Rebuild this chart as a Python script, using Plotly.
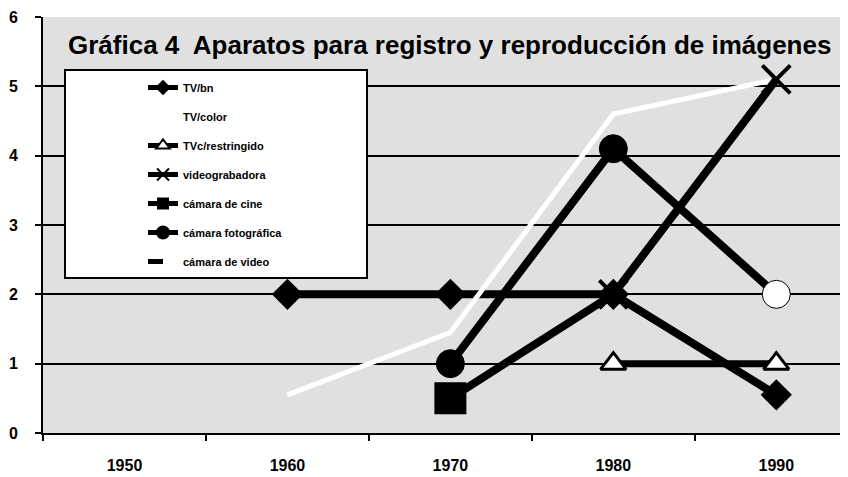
import plotly.graph_objects as go

years = ["1950", "1960", "1970", "1980", "1990"]
tv_bn = [None, 2, 2, 2, 0.55]
tv_color = [None, 0.55, 1.45, 4.6, 5.1]
tvc_restringido = [None, None, None, 1, 1]
videograbadora = [None, None, 0.5, 2, 5.1]
camara_cine = [None, None, 0.5, None, None]
camara_foto = [None, None, 1, 4.1, 2]
camara_video = [None, None, None, None, None]
y_ticks = [0, 1, 2, 3, 4, 5, 6]

FONT = "Arial, Liberation Sans, sans-serif"

fig = go.Figure()

fig.add_trace(go.Scatter(
    x=years, y=tv_bn, name="TV/bn", mode="lines+markers", legendgroup="a",
    line=dict(color="black", width=8),
    marker=dict(symbol="diamond", size=24, color="black")))
fig.add_trace(go.Scatter(
    x=years, y=tv_color, name="TV/color", mode="lines", legendgroup="b",
    line=dict(color="white", width=5)))
fig.add_trace(go.Scatter(
    x=years, y=tvc_restringido, name="TVc/restringido", mode="lines+markers", legendgroup="c",
    line=dict(color="black", width=7),
    marker=dict(symbol="triangle-up", size=22, color="white", line=dict(color="black", width=3))))
fig.add_trace(go.Scatter(
    x=years, y=videograbadora, name="videograbadora", mode="lines+markers", legendgroup="d",
    line=dict(color="black", width=8),
    marker=dict(symbol="x-thin", size=28, color="black", line=dict(color="black", width=4))))
fig.add_trace(go.Scatter(
    x=years, y=camara_cine, name="cámara de cine", mode="lines+markers", legendgroup="e",
    line=dict(color="black", width=2),
    marker=dict(symbol="square", size=32, color="black")))
fig.add_trace(go.Scatter(
    x=years, y=camara_foto, name="cámara fotográfica", mode="lines+markers", legendgroup="f",
    line=dict(color="black", width=8),
    marker=dict(symbol="circle", size=28,
                color=["black", "black", "black", "black", "white"],
                line=dict(color="black", width=1))))
fig.add_trace(go.Scatter(
    x=years, y=camara_video, name="cámara de video", mode="lines", legendgroup="g",
    line=dict(color="black", width=2, dash="dash")))

# legend box
fig.add_shape(type="rect", xref="paper", yref="paper",
              x0=(65 - 43) / 805, x1=(367 - 43) / 805,
              y0=(433 - 278) / 416, y1=(433 - 70) / 416,
              fillcolor="white", line=dict(color="black", width=2), layer="above")

fig.add_annotation(
    text="<b>Gráfica 4  Aparatos para registro y reproducción de imágenes</b>",
    xref="paper", yref="paper", x=(66 - 43) / 805, y=(433 - 45) / 416,
    xanchor="left", yanchor="middle", showarrow=False,
    font=dict(family=FONT, size=26, color="black"))

# the page body adds an 8 px margin, so the figure is sized/offset to compensate
fig.update_layout(
    width=840, height=469,
    margin=dict(l=35, r=0, t=9, b=44, autoexpand=False),
    paper_bgcolor="white", plot_bgcolor="#e0e0e0",
    showlegend=True,
    legend=dict(x=(143 - 43) / 805, y=(433 - 73) / 416, xanchor="left", yanchor="top",
                bgcolor="rgba(0,0,0,0)", borderwidth=0, tracegroupgap=10,
                itemsizing="constant",
                font=dict(family=FONT, size=11, color="black", weight="bold")),
    font=dict(family=FONT, color="black"),
)
fig.update_xaxes(type="category", range=[-0.5, 4.44], showgrid=False, zeroline=False,
                 automargin=False,
                 showline=True, linecolor="black", linewidth=2,
                 ticks="outside", tickson="boundaries", ticklen=6, tickcolor="black", tickwidth=2,
                 ticklabelstandoff=17,
                 tickfont=dict(family=FONT, size=16, color="black", weight="bold"))
fig.update_yaxes(range=[0, 6], tickvals=y_ticks, showgrid=True, gridcolor="black", gridwidth=2,
                 automargin=False,
                 zeroline=False, showline=True, linecolor="black", linewidth=2,
                 ticks="outside", ticklen=6, tickcolor="black", tickwidth=2,
                 ticklabelstandoff=14,
                 tickfont=dict(family=FONT, size=16, color="black", weight="bold"))

fig.write_html("out.html")
